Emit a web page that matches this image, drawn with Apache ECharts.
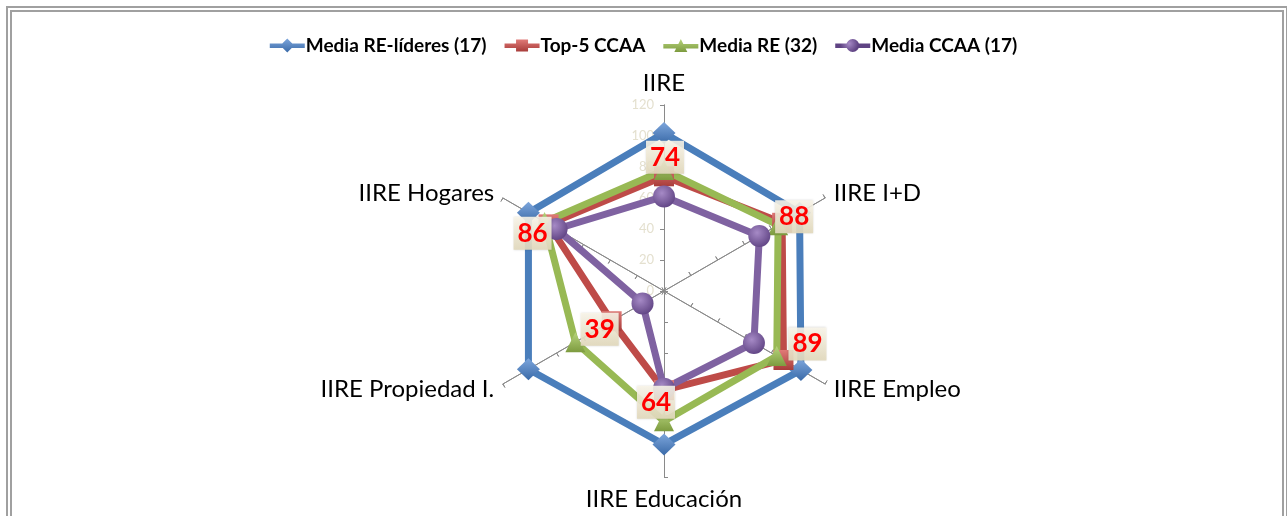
<!DOCTYPE html>
<html>
<head>
<meta charset="utf-8">
<script src="https://cdn.jsdelivr.net/npm/echarts@6/dist/echarts.min.js"></script>
<style>
  html, body { margin: 0; padding: 0; background: #fff; }
  #main { width: 1287px; height: 516px; }
</style>
</head>
<body>
<div id="main"></div>
<script>
// axes, counter-clockwise from the top (echarts radar order)
var categories = ['IIRE', 'IIRE Hogares', 'IIRE Propiedad I.', 'IIRE Educación', 'IIRE Empleo', 'IIRE I+D']
var axisMax = 120
var seriesNames = ['Media RE-líderes (17)', 'Top-5 CCAA', 'Media RE (32)', 'Media CCAA (17)']

var lideres = [102, 101, 101, 99, 102, 101]
var top5 = [74, 86, 39, 64, 89, 88]
var mediaRE = [78, 89, 66, 84, 84, 85]
var mediaCCAA = [61, 80, 16, 63, 67, 71]

// label box offsets per axis (same order as categories)
var labelShift = [[1, -19], [-16, 9], [-12, 8], [-8, 12], [24, -16], [12, -6]]

var cx = 664
var cy = 291

var myChart = echarts.init(document.getElementById('main'))

function vgrad(c1, c2) {
  return new echarts.graphic.LinearGradient(0, 0, 0, 1, [
    { offset: 0, color: c1 },
    { offset: 1, color: c2 }
  ])
}

function radial(c1, c2) {
  return new echarts.graphic.RadialGradient(0.4, 0.35, 0.7, [
    { offset: 0, color: c1 },
    { offset: 1, color: c2 }
  ])
}

var indicator = categories.map(function(name, i) {
  var ind = { name: name, max: axisMax, min: 0 }
  if (i === 0) ind.axisLabel = { show: true }
  return ind
})

var radarBase = {
  center: [cx, cy],
  radius: 186,
  startAngle: 90,
  splitNumber: 6,
  shape: 'polygon',
  indicator: indicator,
  splitLine: { show: false },
  splitArea: { show: false },
  axisLine: { lineStyle: { color: '#8a8a8a', width: 1 } }
}

var option = {
  backgroundColor: '#fff',
  animation: false,
  graphic: [
    { type: 'rect', shape: { x: 7, y: 7, width: 1280, height: 600 }, style: { fill: 'none', stroke: '#a0a0a0', lineWidth: 2 }, silent: true },
    { type: 'rect', shape: { x: 11, y: 11, width: 1272, height: 600 }, style: { fill: 'none', stroke: '#a0a0a0', lineWidth: 2 }, silent: true }
  ],
  legend: {
    top: 31,
    left: 'center',
    itemWidth: 35,
    itemHeight: 16,
    itemGap: 18,
    itemStyle: { borderWidth: 0 },
    textStyle: { fontFamily: 'Lato', fontWeight: 'bold', fontSize: 19, color: '#000', padding: [0, 0, 0, -4] },
    data: [
      { name: seriesNames[0], icon: 'path://M0,5H35V9.5H0Z M17.5,0L24.5,7L17.5,14L10.5,7Z' },
      { name: seriesNames[1], icon: 'path://M0,5H35V9.5H0Z M11.5,1H23.5V13H11.5Z' },
      { name: seriesNames[2], icon: 'path://M0,5H35V9.5H0Z M17.5,0L24,13H11Z' },
      { name: seriesNames[3], icon: 'path://M0,5H35V9.5H0Z M24,7A6.5,6.5 0 1 1 11,7A6.5,6.5 0 1 1 24,7Z' }
    ]
  },
  radar: [
    Object.assign({}, radarBase, {
      axisName: { color: '#000', fontFamily: 'Lato', fontSize: 24 },
      nameGap: 10,
      axisTick: { show: true, length: 4, lineStyle: { color: '#8a8a8a' } },
      axisLabel: { show: false, color: '#e4e0cf', fontFamily: 'Lato', fontSize: 13, margin: 10 }
    }),
    Object.assign({}, radarBase, {
      indicator: categories.map(function(name) { return { name: name, max: axisMax, min: 0 } }),
      axisName: { show: false },
      axisTick: { show: true, inside: true, length: 4, lineStyle: { color: '#8a8a8a' } },
      axisLabel: { show: false }
    })
  ],
  series: [
    {
      name: seriesNames[0],
      type: 'radar',
      radarIndex: 0,
      symbol: 'diamond',
      symbolSize: [23, 22],
      lineStyle: { width: 7, color: '#4a7ebb' },
      itemStyle: { color: vgrad('#7da6dc', '#3a6aa8') },
      data: [{ value: lideres, name: seriesNames[0] }]
    },
    {
      name: seriesNames[1],
      type: 'radar',
      radarIndex: 0,
      symbol: 'rect',
      symbolSize: 20,
      lineStyle: { width: 7, color: '#be4b48' },
      itemStyle: { color: vgrad('#e07a77', '#a83c3a') },
      data: [{ value: top5, name: seriesNames[1] }]
    },
    {
      name: seriesNames[2],
      type: 'radar',
      radarIndex: 0,
      symbol: 'triangle',
      symbolSize: 20,
      lineStyle: { width: 7, color: '#98b954' },
      itemStyle: { color: vgrad('#b7d47c', '#7d9b3f') },
      data: [{ value: mediaRE, name: seriesNames[2] }]
    },
    {
      name: seriesNames[3],
      type: 'radar',
      radarIndex: 0,
      symbol: 'circle',
      symbolSize: 22,
      lineStyle: { width: 7, color: '#7f62a1' },
      itemStyle: { color: radial('#a68ac6', '#5f4383') },
      data: [{ value: mediaCCAA, name: seriesNames[3] }]
    },
    {
      // value boxes for Top-5 CCAA
      name: seriesNames[1],
      type: 'radar',
      radarIndex: 0,
      z: 10,
      symbol: 'circle',
      symbolSize: 2,
      lineStyle: { width: 0, color: 'rgba(0,0,0,0)' },
      itemStyle: { color: 'rgba(0,0,0,0)', borderWidth: 0 },
      label: {
        show: true,
        position: 'inside',
        color: '#ff0000',
        fontFamily: 'Lato',
        fontWeight: 'bold',
        fontSize: 26,
        padding: [4, 4, 3, 4],
        width: 30,
        align: 'center',
        backgroundColor: vgrad('rgba(250,246,234,0.88)', 'rgba(226,217,188,0.92)'),
        shadowColor: 'rgba(0,0,0,0.15)',
        shadowBlur: 2
      },
      labelLayout: function(params) {
        var r = params.rect
        var px = r.x + r.width / 2 - cx
        var py = r.y + r.height / 2 - cy
        var deg = Math.atan2(-py, px) * 180 / Math.PI - 90
        var i = ((Math.round(deg / 60) % 6) + 6) % 6
        return { dx: labelShift[i][0], dy: labelShift[i][1] }
      },
      data: [{ value: top5, name: seriesNames[1] }]
    }
  ]
}

myChart.setOption(option)
</script>
</body>
</html>
